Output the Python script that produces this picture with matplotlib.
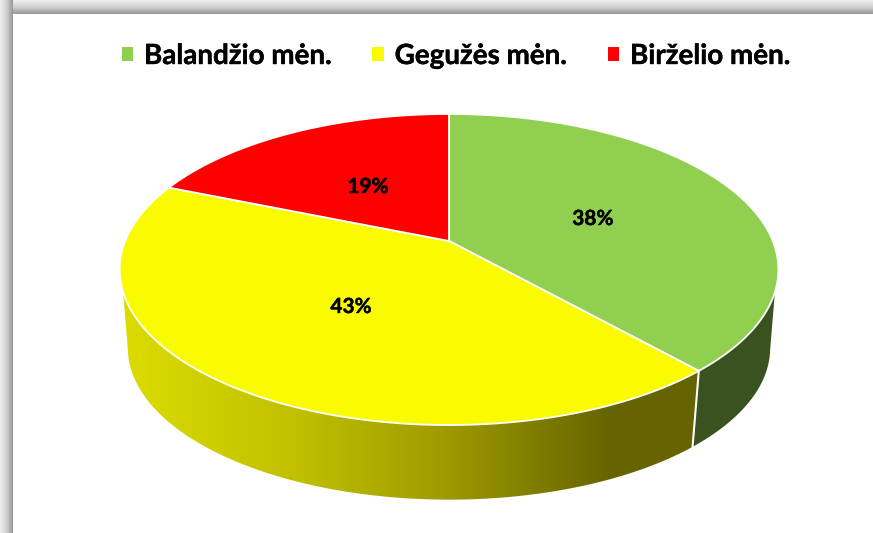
import matplotlib
matplotlib.use('Agg')
import matplotlib.pyplot as pl
import matplotlib.patheffects as pe
import numpy as np
from matplotlib.colors import LinearSegmentedColormap
from matplotlib.patches import Patch, Polygon

months = ['Balandžio mėn.', 'Gegužės mėn.', 'Birželio mėn.']
shares = [38.4, 42.8, 18.8]
colors = ['#90CF50', '#FBFB00', '#FF0000']
side_colors = ['#3A5220', None, '#7F0000']
label_x = [593, 351, 368]
label_y = [219, 307, 187]

# perspective of the disc, everything is in image pixels
cx, cy = 449, 241
ax_u, ax_v, persp = 323.8, 150.3, 0.1833
ell_cy = 269.5
base_cy, base_scale = 348, 0.975
# where the straight silhouette of the wall touches the rims
top_vis = (108.6, 251.4)
bot_vis = (101.3, 258.7)


def top_rim(theta):
    # theta clockwise from 12 o'clock, degrees
    t = np.radians(theta)
    u, v = np.sin(t), np.cos(t)
    w = 1 + persp * v
    return np.column_stack([cx + ax_u * u / w, cy - ax_v * v / w])


def bottom_rim(theta):
    p = top_rim(theta)
    return np.column_stack([cx + (p[:, 0] - cx) * base_scale,
                            base_cy + (p[:, 1] - ell_cy) * base_scale])


fig = pl.figure(figsize=(8.73, 5.33), dpi=100)
ax = fig.add_axes([0, 0, 1, 1])
ax.axis('off')

# shadow round the chart area
grey = LinearSegmentedColormap.from_list('shadow', ['#eeeeee', '#d0d0d0', '#989898'])
ax.imshow(np.linspace(0, 1, 32).reshape(-1, 1), cmap=grey, extent=(0, 873, 14, 0), aspect='auto', zorder=1)
ax.imshow(np.linspace(0, 1, 32).reshape(1, -1), cmap=grey, extent=(0, 13, 533, 0), aspect='auto', zorder=1.1)
ax.add_patch(Polygon([[13, 14], [873, 14], [873, 533], [13, 533]], fc='white', ec='none', zorder=1.2))

edges = 360 * np.cumsum([0] + shares) / sum(shares)
yellow_side = LinearSegmentedColormap.from_list(
    'side', [(0, '#DCDC00'), (0.3, '#C0C000'), (0.55, '#A09C00'), (0.85, '#666400'), (1, '#666400')])

# side walls, only the part that is visible in front
for i in range(3):
    a, b = edges[i], edges[i + 1]
    t_lo, t_hi = max(a, top_vis[0]), min(b, top_vis[1])
    if t_hi <= t_lo:
        continue
    b_lo, b_hi = max(a, bot_vis[0]), min(b, bot_vis[1])
    wall = np.vstack([top_rim(np.linspace(t_lo, t_hi, 200)), bottom_rim(np.linspace(b_hi, b_lo, 200))])
    if side_colors[i] is None:
        poly = Polygon(wall, fc='none', ec='none', zorder=2)
        ax.add_patch(poly)
        im = ax.imshow(np.linspace(0, 1, 256).reshape(1, -1), cmap=yellow_side,
                       extent=(wall[:, 0].min(), wall[:, 0].max(), wall[:, 1].max(), wall[:, 1].min()),
                       aspect='auto', zorder=2)
        im.set_clip_path(poly)
    else:
        ax.add_patch(Polygon(wall, fc=side_colors[i], ec='none', zorder=2))
ax.set_xlim(0, 873)
ax.set_ylim(533, 0)

# white seam between the walls
seam = np.vstack([top_rim(np.array([edges[1]])), bottom_rim(np.array([edges[1]]))])
ax.plot(seam[:, 0], seam[:, 1], color='white', lw=1.5, zorder=3)

# top face
for i in range(3):
    th = np.linspace(edges[i], edges[i + 1], 300)
    face = np.vstack([[cx, cy], top_rim(th)])
    ax.add_patch(Polygon(face, closed=True, fc=colors[i], ec='white', lw=1.3, joinstyle='round', zorder=4))

heavy = [pe.withStroke(linewidth=0.3, foreground='black')]

# percent labels
for i in range(3):
    ax.text(label_x[i], label_y[i], f'{shares[i]:.0f}%', ha='center', va='center', fontsize=15,
            fontweight='bold', family='Lato', color='black', zorder=5, path_effects=heavy)

handles = [Patch(fc=c, ec='none') for c in colors]
leg = ax.legend(handles, months, ncol=3, loc='center', bbox_to_anchor=(456 / 873, 1 - 56 / 533),
                frameon=False, prop={'family': 'Lato', 'weight': 'bold', 'size': 20},
                handlelength=0.4, handleheight=0.4, handletextpad=0.4, columnspacing=1.48)
leg.set_zorder(6)
for t in leg.get_texts():
    t.set_path_effects(heavy)

fig.savefig('out.png', dpi=100)
